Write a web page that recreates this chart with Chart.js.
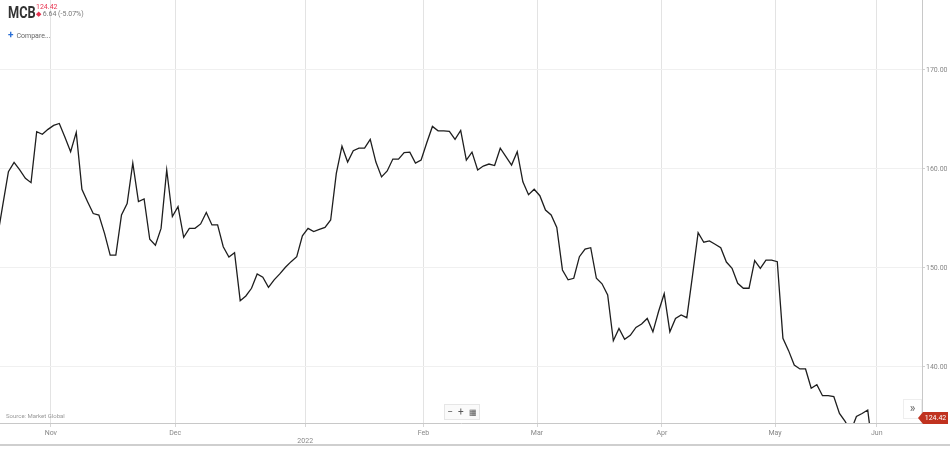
<!DOCTYPE html>
<html>
<head>
<meta charset="utf-8">
<script src="https://cdn.jsdelivr.net/npm/chart.js@4.4.0/dist/chart.umd.min.js"></script>
<style>
    body { margin: 0; background: #fff; font-family: Roboto, Arial, sans-serif; }
    #wrap { position: relative; width: 950px; height: 450px; overflow: hidden; }
    #chart { position: absolute; left: 0; top: 0; }
    .ov { position: absolute; white-space: nowrap; }
    #ticker { left: 8px; top: 2px; font-size: 17px; font-weight: bold; color: #333;
        transform: scaleX(0.75); transform-origin: left top; }
    #last { left: 36px; top: 3px; font-size: 7px; color: #e8324f; }
    #chg { left: 36px; top: 10px; font-size: 7px; color: #777; }
    #chg span { color: #e8324f; }
    #compare { left: 8px; top: 29px; font-size: 7px; color: #666; }
    #compare b { color: #2a6fd6; font-size: 10px; margin-right: 3px; }
    #source { left: 6px; top: 412px; font-size: 6px; color: #999; }
    #zoombox { left: 444px; top: 404px; width: 34px; height: 14px; border: 1px solid #e6e6e6; background: #fafafa;
        font-size: 10px; color: #555; text-align: center; line-height: 13px; }
    #more { left: 903px; top: 399px; width: 17px; height: 18px; border: 1px solid #eee; background: #fff;
        font-size: 12px; color: #666; text-align: center; line-height: 17px; }
    #pricetag { left: 923px; top: 412px; width: 25px; height: 12px; background: #c0321f; color: #fff;
        font-size: 7px; line-height: 12px; text-align: center; }
    #pricetag:before { content: ""; position: absolute; left: -5px; top: 0; border-top: 6px solid transparent;
        border-bottom: 6px solid transparent; border-right: 5px solid #c0321f; }
    #bottomline { left: 0; top: 444px; width: 950px; height: 2px; background: #cfcfcf; }
</style>
</head>
<body>
<div id="wrap">
    <canvas id="chart" width="950" height="450"></canvas>
    <div class="ov" id="ticker">MCB</div>
    <div class="ov" id="last">124.42</div>
    <div class="ov" id="chg"><span>&#9670;</span> 6.64 (-5.07%)</div>
    <div class="ov" id="compare"><b>+</b>Compare...</div>
    <div class="ov" id="source">Source: Market Global</div>
    <div class="ov" id="zoombox">&minus;&nbsp;&nbsp;+&nbsp;&nbsp;<span style="font-size:8px">&#9638;</span></div>
    <div class="ov" id="more">&raquo;</div>
    <div class="ov" id="pricetag">124.42</div>
    <div class="ov" id="bottomline"></div>
</div>
<script>
    // closing prices, one per trading day
    const prices = [
        152.9, 156.35, 159.73, 160.67, 159.9, 159.06, 158.62, 163.77, 163.5, 164.0,
        164.4, 164.6, 163.2, 161.75, 163.7, 157.95, 156.7, 155.5, 155.35, 153.5,
        151.3, 151.3, 155.35, 156.5, 160.6, 156.7, 156.97, 152.9, 152.3, 154.0,
        159.9, 155.2, 156.2, 153.1, 154.0, 154.0, 154.45, 155.6, 154.35, 154.35,
        152.15, 151.1, 151.55, 146.7, 147.17, 147.95, 149.4, 149.06, 148.05, 148.8,
        149.4, 150.07, 150.64, 151.14, 153.25, 154.0, 153.67, 153.9, 154.1, 154.85,
        159.56, 162.3, 160.7, 161.85, 162.1, 162.1, 163.0, 160.7, 159.2, 159.8,
        161.0, 161.0, 161.65, 161.7, 160.6, 160.9, 162.65, 164.3, 163.85, 163.85,
        163.8, 163.0, 163.9, 160.9, 161.7, 159.9, 160.3, 160.5, 160.35, 162.1,
        161.25, 160.4, 161.75, 158.7, 157.4, 157.95, 157.3, 155.85, 155.35, 154.1,
        149.8, 148.8, 148.96, 151.14, 151.9, 152.05, 148.96, 148.4, 147.27, 142.65,
        143.9, 142.8, 143.2, 144.0, 144.34, 144.9, 143.55, 145.6, 147.4, 143.55,
        144.9, 145.25, 144.98, 149.2, 153.57, 152.6, 152.73, 152.4, 152.05, 150.6,
        149.97, 148.45, 147.95, 147.95, 150.74, 149.97, 150.8, 150.8, 150.64, 142.9,
        141.65, 140.2, 139.8, 139.8, 137.85, 138.2, 137.1, 137.1, 137.0, 135.3,
        134.5, 133.5, 135.0, 135.3, 135.65, 131.06
    ];

    // month boundaries, in trading-day units
    const monthLabels = ['Nov', 'Dec', ['', '2022'], 'Feb', 'Mar', 'Apr', 'May', 'Jun'];
    const monthPos = [9.5, 31.5, 54.5, 75.4, 95.5, 117.6, 137.6, 155.6];

    const priceTicks = [140, 150, 160, 170];

    const xRange = [0.51, 163.6];
    const yRange = [134.34, 177.07];

    const tickFont = {family: 'Roboto, Arial, sans-serif', size: 7};

    new Chart(document.getElementById('chart'), {
        type: 'line',
        data: {
            datasets: [{
                data: prices.map((v, i) => ({x: i, y: v})),
                borderColor: '#1e1e1e',
                borderWidth: 1.3,
                pointRadius: 0,
                tension: 0,
                fill: false
            }]
        },
        options: {
            responsive: false,
            animation: false,
            layout: {padding: 0},
            plugins: {
                legend: {display: false},
                tooltip: {enabled: false}
            },
            scales: {
                x: {
                    type: 'linear',
                    position: 'bottom',
                    min: xRange[0],
                    max: xRange[1],
                    afterBuildTicks: (scale) => {
                        scale.ticks = monthPos.map(v => ({value: v}));
                    },
                    afterFit: (scale) => {
                        scale.height = 27;
                        scale.paddingLeft = 0;
                        scale.paddingRight = 0;
                    },
                    ticks: {
                        autoSkip: false,
                        maxRotation: 0,
                        padding: 2,
                        color: '#888',
                        font: tickFont,
                        callback: (v, i) => monthLabels[i]
                    },
                    grid: {
                        color: '#e3e3e3',
                        lineWidth: 1,
                        tickLength: 4,
                        tickColor: '#d6d6d6'
                    },
                    border: {color: '#c8c8c8', width: 1}
                },
                y: {
                    type: 'linear',
                    position: 'right',
                    min: yRange[0],
                    max: yRange[1],
                    afterBuildTicks: (scale) => {
                        scale.ticks = priceTicks.map(v => ({value: v}));
                    },
                    afterFit: (scale) => {
                        scale.width = 28;
                        scale.paddingTop = 0;
                        scale.paddingBottom = 0;
                    },
                    ticks: {
                        padding: 1,
                        color: '#888',
                        font: tickFont,
                        callback: (v) => v.toFixed(2)
                    },
                    grid: {
                        color: '#f0f0f0',
                        lineWidth: 1,
                        tickLength: 3,
                        tickColor: '#d0d0d0'
                    },
                    border: {color: '#c8c8c8', width: 1}
                }
            }
        }
    });
</script>
</body>
</html>
